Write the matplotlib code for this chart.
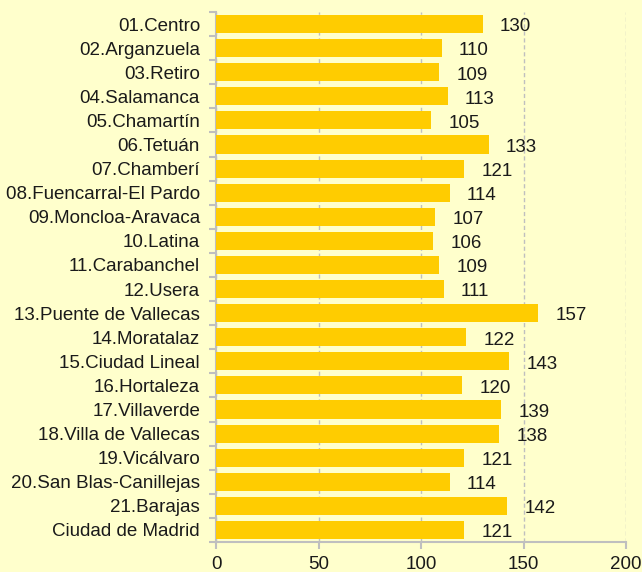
import matplotlib.pyplot as plt
import numpy as np

plt.rcParams['font.family'] = ['Liberation Sans', 'DejaVu Sans']

districts = [
    "01.Centro", "02.Arganzuela", "03.Retiro", "04.Salamanca", "05.Chamartín",
    "06.Tetuán", "07.Chamberí", "08.Fuencarral-El Pardo", "09.Moncloa-Aravaca",
    "10.Latina", "11.Carabanchel", "12.Usera", "13.Puente de Vallecas",
    "14.Moratalaz", "15.Ciudad Lineal", "16.Hortaleza", "17.Villaverde",
    "18.Villa de Vallecas", "19.Vicálvaro", "20.San Blas-Canillejas",
    "21.Barajas", "Ciudad de Madrid",
]
values = [130, 110, 109, 113, 105, 133, 121, 114, 107, 106, 109, 111, 157,
          122, 143, 120, 139, 138, 121, 114, 142, 121]
x_ticks = [0, 50, 100, 150, 200]

bg = "#FFFFCC"
bar_color = "#FFCC00"
axis_grey = "#BFBFBF"
fs = 13.5

fig = plt.figure(figsize=(6.42, 5.72), dpi=100, facecolor=bg)
ax = fig.add_axes([216 / 642, 1 - 542 / 572, 410 / 642, 530 / 572], facecolor=bg)

y = np.arange(len(districts))
ax.barh(y, values, height=0.75, color=bar_color, zorder=3)

for yi, v in zip(y, values):
    ax.annotate(str(v), (v, yi), xytext=(12.5, -2), textcoords="offset points",
                ha="left", va="center", fontsize=fs, color="#1a1a1a", zorder=4)

ax.set_xlim(0, 200)
ax.set_ylim(len(districts) - 0.5, -0.5)
ax.set_xticks(x_ticks)
ax.set_xticklabels([str(t) for t in x_ticks], fontsize=fs)
ax.set_yticks(y)
ax.set_yticklabels(districts, fontsize=fs, color="#1a1a1a")
ax.tick_params(axis="y", length=0, pad=11.5)
ax.set_yticks(np.arange(len(districts) + 1) - 0.5, minor=True)
ax.tick_params(axis="y", which="minor", length=5, color=axis_grey, width=1.5)
ax.tick_params(axis="x", length=5, color=axis_grey, width=1.5, pad=5,
               labelcolor="#1a1a1a")

ax.grid(axis="x", linestyle=(0, (3, 2)), color="#BFBFBF", linewidth=1, zorder=0)
for side in ["top", "right"]:
    ax.spines[side].set_visible(False)
for side in ["left", "bottom"]:
    ax.spines[side].set_color(axis_grey)
    ax.spines[side].set_linewidth(1.5)

fig.savefig("out.png", dpi=100, facecolor=bg)
